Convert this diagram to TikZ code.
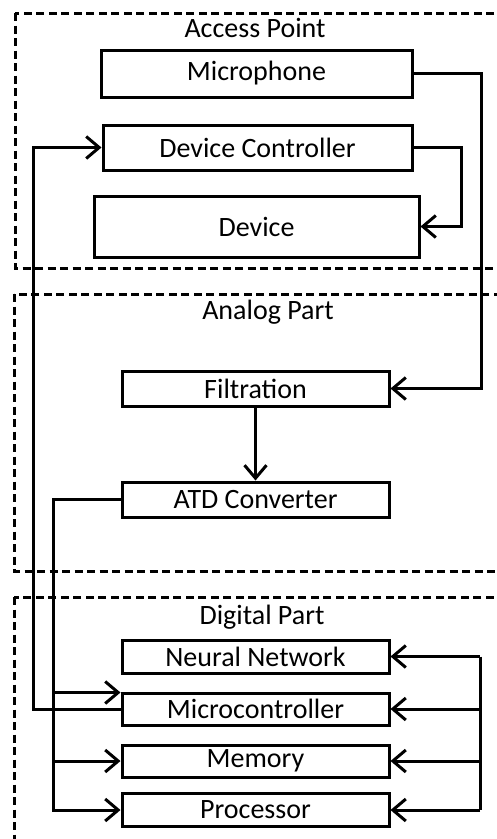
\documentclass[tikz,border=0pt]{standalone}
\usepackage{fontspec}
\setmainfont{Carlito}
\usetikzlibrary{arrows.meta}

\begin{document}
\begin{tikzpicture}[
    x=1pt, y=-1pt,
    box/.style={draw, line width=3pt, inner sep=0pt, minimum width=267pt,
      minimum height=34pt, font=\fontsize{28}{32}\selectfont},
    part/.style={draw, line width=3pt, dash pattern=on 8pt off 4.5pt},
    title/.style={font=\fontsize{28}{32}\selectfont},
    wire/.style={line width=3pt},
    arrow/.style={wire, -{Straight Barb[length=13pt,width=22pt,line width=3pt]}}
  ]
    \path[use as bounding box, clip] (0,0) rectangle (497,839);

    % dashed groups
    \draw[part] (15,13) rectangle (512,268);
    \draw[part] (14,294) rectangle (512,571);
    \draw[part] (14,597) rectangle (512,870);
    \node[title] (access) at (255,28) {Access Point};
    \node[title] (analog) at (268,312) {Analog Part};
    \node[title] (digital) at (262,617) {Digital Part};

    % access point
    \node[box, minimum width=311pt, minimum height=47pt] (mic) at (256.5,73.5) {Microphone};
    \node[box, minimum width=309pt, minimum height=45pt] (ctrl) at (257.5,147.5) {Device Controller};
    \node[box, minimum width=325pt, minimum height=61pt] (dev) at (256.5,226.5) {Device};

    % analog part
    \node[box, minimum height=35pt] (filt) at (255.5,388.5) {Filtration};
    \node[box, minimum height=35pt] (atd) at (255.5,499.5) {ATD Converter};

    % digital part
    \node[box, minimum height=33pt] (nn) at (255.5,656.5) {Neural Network};
    \node[box, minimum height=32pt] (mcu) at (255.5,709) {Microcontroller};
    \node[box, minimum height=32pt] (mem) at (255.5,761) {Memory};
    \node[box, minimum height=33pt] (cpu) at (255.5,810) {Processor};

    \draw[arrow] (mic.east) -- ++(68,0) |- (filt.east);
    \draw[arrow] (ctrl.east) -- ++(48,0) |- (dev.east);
    \draw[arrow] (filt) -- (atd);

    % left buses
    \draw[arrow] (atd.west) -- ++(-67,0) coordinate (lbus) |- (cpu.west);
    \draw[arrow] (lbus |- mcu.north) ++(0,1) -- ([yshift=-1pt]mcu.north west);
    \draw[arrow] (lbus |- mem.west) -- (mem.west);
    \draw[arrow] (mcu.west) -- ++(-87,0) |- (ctrl.west);

    % right bus
    \coordinate (rtop) at (480,656.5);
    \coordinate (rbot) at (480,810);
    \draw[wire] (rtop) -- (rbot);
    \foreach \n in {nn,mcu,mem,cpu}
      \draw[arrow] (rtop |- \n.east) -- (\n.east);
  \end{tikzpicture}
\end{document}
